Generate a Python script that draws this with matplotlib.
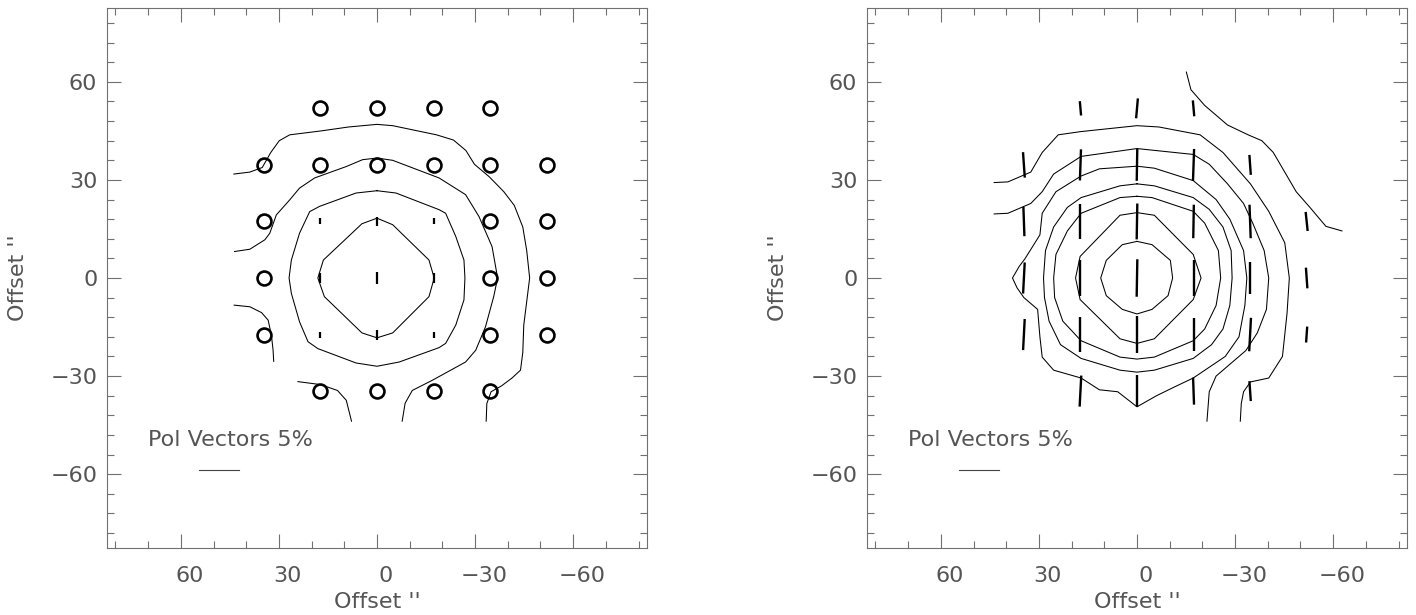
import numpy as np
import matplotlib
matplotlib.use("Agg")
import matplotlib.pyplot as plt
from matplotlib import transforms
from matplotlib.ticker import MultipleLocator

# map offsets in arcsec, grid step of the polarimeter positions
tick_vals = [-60, -30, 0, 30, 60]
axis_lim = 82.6

# left panel: positions with no detection (circles)
circle_x = [17.3, 0, -17.3, -34.6,
            34.6, 17.3, 0, -17.3, -34.6, -51.9,
            34.6, -34.6, -51.9,
            34.6, -34.6, -51.9,
            34.6, -34.6, -51.9,
            17.3, 0, -17.3, -34.6]
circle_y = [51.9, 51.9, 51.9, 51.9,
            34.6, 34.6, 34.6, 34.6, 34.6, 34.6,
            17.3, 17.3, 17.3,
            0, 0, 0,
            -17.3, -17.3, -17.3,
            -34.6, -34.6, -34.6, -34.6]

# left panel vectors: position, polarization (%), position angle (deg)
vec1_x = [17.3, 0, -17.3, 17.3, 0, -17.3, 17.3, 0, -17.3]
vec1_y = [17.3, 17.3, 17.3, 0, 0, 0, -17.3, -17.3, -17.3]
vec1_p = [0.75, 1.1, 0.75, 1.25, 1.5, 1.25, 0.75, 1.25, 0.75]
vec1_pa = [0, 0, 0, 0, 0, 0, 0, 0, 0]

# right panel vectors
vec2_x = [34.6, 34.6, 34.6, 34.6,
          17.3, 17.3, 17.3, 17.3, 17.3, 17.3,
          0, 0, 0, 0, 0, 0,
          -17.3, -17.3, -17.3, -17.3, -17.3, -17.3,
          -34.6, -34.6, -34.6, -34.6, -34.6,
          -51.9, -51.9, -51.9]
vec2_y = [34.6, 17.3, 0, -17.3,
          51.9, 34.6, 17.3, 0, -17.3, -34.6,
          51.9, 34.6, 17.3, 0, -17.3, -34.6,
          51.9, 34.6, 17.3, 0, -17.3, -34.6,
          34.6, 17.3, 0, -17.3, -34.6,
          17.3, 0, -17.3]
vec2_p = [3.2, 3.7, 3.9, 3.9,
          1.8, 3.9, 4.4, 4.4, 4.4, 3.9,
          2.5, 4.0, 4.5, 4.7, 4.7, 4.0,
          2.0, 4.0, 4.2, 4.4, 4.2, 3.4,
          2.5, 4.2, 4.0, 4.2, 2.5,
          2.4, 2.6, 2.0]
vec2_pa = [4, 2, -3, -3,
           5, -2, 0, 0, 0, -3,
           -5, -1, -1, -1, 0, 0,
           5, -2, -1, 0, 0, 2,
           4, 2, 0, -3, 4,
           6, 4, -4]

# reference vector
ref_p = 5.0
ref_len = 12.2
ref_x = 48.3
ref_y = -58.7

# left panel contours (traced)
left_contours = [
    [(0, 18.3), (-4.8, 16.3), (-15.9, 5.5), (-17.5, 0), (-15.9, -5.7), (-4.8, -16.8),
     (0, -18.3), (4.6, -16.8), (16.1, -5.7), (18.1, 0), (16.4, 5.5), (4.6, 16.6), (0, 18.3)],
    [(0, 26.7), (-5.8, 26.0), (-19.0, 20.9), (-21.0, 19.8), (-24.1, 12.7), (-26.6, 5.5),
     (-26.9, 0), (-26.6, -6.7), (-24.1, -14.4), (-21.0, -20.0), (-19.0, -21.3), (-6.8, -25.7),
     (0, -27.0), (6.4, -26.0), (18.1, -21.6), (21.1, -19.5), (23.7, -13.4), (26.2, -4.7),
     (26.9, 0), (26.2, 5.5), (23.7, 13.7), (20.6, 20.3), (17.6, 21.9), (6.4, 26.0), (0, 26.7)],
    [(43.6, 8.1), (38.9, 8.8), (34.3, 11.7), (32.8, 13.7), (30.8, 19.3), (26.7, 23.9),
     (23.7, 27.5), (19.1, 30.6), (9.4, 34.1), (4.4, 36.2), (0, 36.7), (-4.8, 36.0),
     (-19.0, 30.6), (-27.1, 25.5), (-31.2, 18.8), (-35.2, 9.6), (-36.9, 0), (-35.7, -5.7),
     (-33.2, -14.9), (-30.2, -22.1), (-27.1, -25.7), (-16.9, -31.3), (-10.8, -34.4),
     (-8.6, -38.3), (-7.7, -43.8)],
    [(24.2, -31.7), (17.3, -32.6), (12.1, -34.4), (9.4, -37.4), (7.8, -43.8)],
    [(43.7, -8.3), (38.9, -8.8), (35.3, -10.6), (33.3, -12.9), (32.3, -17.5), (31.8, -22.0),
     (31.6, -25.5)],
    [(43.8, 31.8), (38.9, 32.4), (35.1, 33.8), (32.5, 38.4), (29.9, 42.0), (26.7, 43.8),
     (17.1, 45.0), (8.7, 46.2), (0, 47.0), (-4.8, 46.6), (-18.2, 43.8), (-23.4, 42.2),
     (-27.2, 39.0), (-29.8, 34.8), (-34.3, 31.0), (-38.8, 26.4), (-42.0, 22.2), (-44.6, 15.6),
     (-45.8, 8.4), (-46.7, 0), (-45.8, -7.2), (-44.9, -14.4), (-44.6, -22.8), (-43.9, -28.2),
     (-41.3, -30.6), (-38.1, -33.0), (-34.9, -34.8), (-33.6, -38.4), (-33.4, -43.8)],
]

# right panel contours (traced)
right_contours = [
    [(0, 11.2), (-4.6, 10.2), (-10.2, 5.4), (-10.9, 0), (-9.5, -5.4), (-4.6, -9.6), (0, -11.0),
     (4.5, -9.6), (9.4, -5.4), (11.1, 0), (9.4, 5.4), (4.5, 10.2), (0, 11.2)],
    [(0, 20.0), (-5.3, 19.2), (-17.2, 7.2), (-19.6, 0), (-17.2, -6.6), (-5.3, -18.6), (0, -20.0),
     (5.2, -18.6), (17.4, -6.6), (18.8, 0), (17.4, 6.6), (5.2, 19.2), (0, 20.0)],
    [(0, 25.0), (-4.6, 24.6), (-17.2, 20.4), (-20.7, 16.8), (-24.9, 8.4), (-25.6, 0),
     (-24.2, -8.4), (-20.7, -15.6), (-17.2, -19.2), (-5.3, -24.2), (0, -24.8), (5.2, -24.2),
     (17.1, -19.2), (22.7, -13.2), (25.2, -6.0), (25.5, 0), (24.8, 7.2), (21.3, 14.4),
     (17.1, 19.8), (5.2, 24.6), (0, 25.0)],
    [(0, 28.8), (-5.3, 28.2), (-17.2, 24.6), (-22.1, 21.0), (-26.3, 15.6), (-28.8, 8.4),
     (-29.1, 0), (-28.4, -8.4), (-26.3, -15.6), (-22.8, -20.4), (-17.2, -24.6), (-5.3, -28.2),
     (0, -28.8), (5.2, -28.2), (17.1, -24.6), (23.4, -20.4), (26.9, -13.2), (28.3, -6.0),
     (28.6, 0), (28.0, 8.4), (25.5, 15.6), (21.3, 21.6), (17.1, 24.6), (5.2, 28.2), (0, 28.8)],
    [(0, 34.2), (-5.3, 33.6), (-17.2, 29.8), (-24.2, 24.0), (-28.4, 18.0), (-32.6, 8.4),
     (-33.6, 0), (-33.0, -8.4), (-31.2, -18.0), (-27.0, -24.0), (-17.2, -30.6), (-10.9, -33.6),
     (-6.0, -36.0), (0, -39.4), (5.9, -34.8), (11.5, -34.2), (17.1, -30.6), (25.5, -28.2),
     (29.0, -24.2), (29.7, -18.0), (30.4, -9.6), (34.6, -6.0), (36.7, -3.0), (38.1, 0),
     (36.0, 3.6), (34.2, 6.0), (29.7, 13.2), (29.0, 19.8), (24.8, 26.4), (17.1, 31.2),
     (11.5, 33.4), (0, 34.2)],
    [(43.7, 19.6), (39.5, 19.8), (32.5, 22.8), (29.0, 26.4), (25.5, 31.8), (17.1, 37.2),
     (0, 39.6), (-17.2, 37.8), (-22.1, 34.8), (-27.7, 28.8), (-32.6, 22.8), (-35.4, 16.8),
     (-38.9, 8.4), (-40.3, 0), (-39.6, -9.6), (-36.8, -16.8), (-33.3, -22.2), (-28.4, -26.4),
     (-24.2, -30.0), (-22.1, -34.8), (-21.4, -43.8)],
    [(43.7, 29.2), (39.5, 29.4), (32.5, 32.4), (29.0, 38.4), (24.1, 43.8), (17.1, 44.8),
     (0, 46.6), (-6.7, 46.2), (-19.3, 43.8), (-26.3, 38.4), (-30.5, 33.6), (-34.7, 28.8),
     (-40.3, 20.4), (-45.2, 10.8), (-46.6, 0), (-45.9, -10.8), (-44.5, -24.0), (-40.3, -30.6),
     (-34.7, -31.8), (-32.6, -34.8), (-31.9, -38.4), (-31.6, -43.8)],
    [(-15.1, 63.0), (-16.5, 57.6), (-20.7, 52.8), (-27.7, 46.8), (-34.0, 43.8), (-38.2, 42.0),
     (-41.7, 38.4), (-45.2, 32.4), (-48.7, 26.4), (-52.9, 21.6), (-57.8, 15.8), (-62.7, 14.4)],
]

text_color = "#555555"
frame_color = "#707070"
plt.rcParams["font.family"] = ["DejaVu Sans"]

fig = plt.figure(figsize=(14.16, 6.15), dpi=100)
ax1 = fig.add_axes([107 / 1416, 67 / 615, 540 / 1416, 540 / 615])
ax2 = fig.add_axes([867 / 1416, 67 / 615, 540 / 1416, 540 / 615])

scale = ref_len / ref_p


def setup_axes(ax):
    ax.set_xlim(axis_lim, -axis_lim)
    ax.set_ylim(-axis_lim, axis_lim)
    ax.set_xticks(tick_vals)
    ax.set_yticks(tick_vals)
    ax.xaxis.set_minor_locator(MultipleLocator(10))
    ax.yaxis.set_minor_locator(MultipleLocator(6))
    ax.tick_params(which="both", direction="in", top=True, right=True,
                   color=frame_color, labelsize=16, labelcolor=text_color, width=0.8)
    ax.tick_params(which="major", length=10)
    ax.tick_params(which="minor", length=5)
    ax.tick_params(axis="x", pad=13)
    ax.tick_params(axis="y", pad=7)
    for s in ax.spines.values():
        s.set_color(frame_color)
        s.set_linewidth(0.8)
    ax.set_xlabel("Offset ''", fontsize=16, color=text_color, labelpad=4)
    ax.set_ylabel("Offset ''", fontsize=16, color=text_color, labelpad=16)
    # IDL style labels sit a little right of their ticks
    shift = transforms.ScaledTranslation(0.09, 0, fig.dpi_scale_trans)
    for lab in ax.get_xticklabels():
        lab.set_transform(lab.get_transform() + shift)
    ax.text(70, -49.7, "Pol Vectors 5%", fontsize=16, color=text_color, va="center", ha="left")
    ax.plot([ref_x + ref_len / 2, ref_x - ref_len / 2], [ref_y, ref_y], color="#444444", lw=0.8)


def draw_vectors(ax, xs, ys, ps, pas, lw):
    for x, y, p, pa in zip(xs, ys, ps, pas):
        half = p * scale / 2
        dx = half * np.sin(np.radians(pa))
        dy = half * np.cos(np.radians(pa))
        ax.plot([x - dx, x + dx], [y - dy, y + dy], color="black", lw=lw, solid_capstyle="butt")


def draw_contours(ax, contours):
    for c in contours:
        cx, cy = zip(*c)
        ax.plot(cx, cy, color="black", lw=0.75)


setup_axes(ax1)
draw_contours(ax1, left_contours)
ax1.plot(circle_x, circle_y, "o", ms=10, mfc="none", mec="black", mew=1.9)
draw_vectors(ax1, vec1_x, vec1_y, vec1_p, vec1_pa, 1.6)

setup_axes(ax2)
draw_contours(ax2, right_contours)
draw_vectors(ax2, vec2_x, vec2_y, vec2_p, vec2_pa, 1.7)

fig.savefig("out.png", dpi=100)
